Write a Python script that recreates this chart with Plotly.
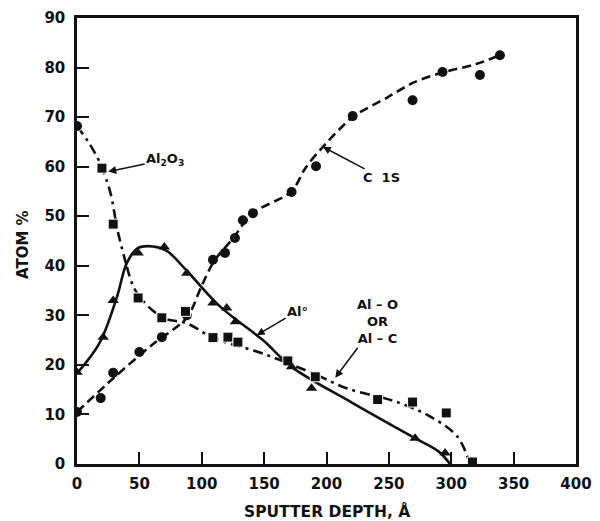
import plotly.graph_objects as go

# ---- data ----
c1s_x = [0, 19, 29, 50, 68, 88, 109, 118.6, 126.6, 133, 141, 172, 191.6, 221, 269, 293, 323, 339]
c1s_y = [10.5, 13.3, 18.4, 22.6, 25.6, 30, 41.2, 42.6, 45.6, 49.2, 50.6, 54.9, 60.1, 70.2, 73.4, 79.1, 78.5, 82.5]
c1s_fit_x = [0, 30, 60, 88, 100, 110, 125, 140, 172, 183, 195, 221, 249, 270, 293, 320, 339]
c1s_fit_y = [10.5, 17.5, 24, 29.5, 36, 41, 45.5, 50.5, 55, 59.7, 63.4, 70, 74, 77, 79, 80.7, 82.5]

al2o3_x = [0, 20, 29, 49, 68, 87, 109, 121, 129, 169, 191, 241, 269, 296, 317]
al2o3_y = [68.2, 59.7, 48.4, 33.5, 29.5, 30.8, 25.5, 25.6, 24.6, 20.8, 17.6, 13, 12.5, 10.3, 0.4]
al2o3_fit1_x = [0, 9, 16, 20, 26.5, 33, 40]
al2o3_fit1_y = [68.2, 65, 62, 59.7, 55, 46.6, 39.8]
al2o3_fit2_x = [40, 48, 69, 88, 109, 150, 190, 216, 259, 285, 305, 315]
al2o3_fit2_y = [39.8, 34.5, 29.5, 28.4, 25.5, 22.2, 18.2, 15.3, 12.3, 9.3, 5.5, 0]

al_x = [0, 21, 29, 49, 70, 88, 109, 120, 127, 172, 188, 271, 295]
al_y = [18.5, 25.6, 33, 42.6, 43.8, 38.5, 32.5, 31.5, 28.7, 19.6, 15.3, 5.2, 2.2]
al_fit_x = [0, 18, 32, 40, 49, 61, 72, 88, 115, 149, 172, 221, 271, 290, 299]
al_fit_y = [18.3, 24.4, 33.7, 40.6, 43.6, 43.9, 43, 39, 31.7, 25, 19.6, 12.3, 5.2, 2.5, 0]

x_ticks = [0, 50, 100, 150, 200, 250, 300, 350, 400]
y_ticks = [0, 10, 20, 30, 40, 50, 60, 70, 80, 90]

FONT = "DejaVu Sans, Verdana, sans-serif"
BLK = "#111111"

fig = go.Figure()

# fitted curves
fig.add_trace(go.Scatter(x=c1s_fit_x, y=c1s_fit_y, mode="lines", line_shape="spline",
                         line=dict(color=BLK, width=2.6, dash="9px,5px", smoothing=0.8),
                         showlegend=False, hoverinfo="skip"))
fig.add_trace(go.Scatter(x=al2o3_fit1_x, y=al2o3_fit1_y, mode="lines", line_shape="spline",
                         line=dict(color=BLK, width=2.6, dash="10px,5px,3px,5px"), showlegend=False, hoverinfo="skip"))
fig.add_trace(go.Scatter(x=al2o3_fit2_x, y=al2o3_fit2_y, mode="lines", line_shape="spline",
                         line=dict(color=BLK, width=2.6, dash="10px,5px,3px,5px"), showlegend=False, hoverinfo="skip"))
fig.add_trace(go.Scatter(x=al_fit_x, y=al_fit_y, mode="lines", line_shape="spline",
                         line=dict(color=BLK, width=2.6), showlegend=False, hoverinfo="skip"))

# markers
fig.add_trace(go.Scatter(x=c1s_x, y=c1s_y, mode="markers", name="C 1S",
                         marker=dict(symbol="circle", size=10, color=BLK, opacity=1), showlegend=False))
fig.add_trace(go.Scatter(x=al2o3_x, y=al2o3_y, mode="markers", name="Al2O3",
                         marker=dict(symbol=["circle"] + ["square"] * (len(al2o3_x) - 1),
                                     size=[11] + [10] * (len(al2o3_x) - 1), color=BLK, opacity=1),
                         showlegend=False))
fig.add_trace(go.Scatter(x=al_x, y=al_y, mode="markers", name="Al°",
                         marker=dict(symbol="triangle-up", size=10, color=BLK, opacity=1), showlegend=False))

ann_font = dict(family=FONT, size=13, color=BLK, weight="bold")
arrow = dict(showarrow=True, arrowhead=2, arrowsize=1, arrowwidth=1.6, arrowcolor=BLK)
fig.add_annotation(x=25, y=59, ax=57, ay=-12, text="Al<sub>2</sub>O<sub>3</sub>", font=ann_font, **arrow)
fig.add_annotation(x=197, y=64, ax=59, ay=31, text="C  1S", font=ann_font, **arrow)
fig.add_annotation(x=144, y=26, ax=41, ay=-24, text="Al°", font=ann_font, **arrow)
fig.add_annotation(x=207, y=17.4, ax=42, ay=-56, text="Al – O<br>OR<br>Al – C", font=ann_font, **arrow)

# axis titles
fig.add_annotation(xref="paper", yref="paper", x=0.5, y=0, xanchor="center", yanchor="top", yshift=-36,
                   text="SPUTTER DEPTH, Å", showarrow=False,
                   font=dict(family=FONT, size=15.5, color=BLK, weight="bold"))
fig.add_annotation(xref="paper", yref="paper", x=0, y=0.5, xanchor="center", yanchor="middle",
                   xshift=-54, yshift=-4, textangle=-90, text="ATOM %", showarrow=False,
                   font=dict(family=FONT, size=15, color=BLK, weight="bold"))

axis_common = dict(showgrid=False, zeroline=False, showline=True, linecolor=BLK, linewidth=2.5,
                   mirror=True, ticks="inside", ticklen=12, tickwidth=2, tickcolor=BLK, automargin=False,
                   tickfont=dict(family=FONT, size=15, color=BLK, weight="bold"))
fig.update_xaxes(range=[0, 400], tickvals=x_ticks, ticktext=[str(v) for v in x_ticks],
                 ticklabelstandoff=4, **axis_common)
fig.update_yaxes(range=[0, 90], tickvals=y_ticks, ticktext=[str(v) for v in y_ticks],
                 ticklabelstandoff=6, **axis_common)

fig.update_layout(width=600, height=521, margin=dict(l=77, r=24, t=18, b=57),
                  plot_bgcolor="white", paper_bgcolor="white", font=dict(family=FONT))

fig.write_html("out.html", post_script="document.body.style.margin='0';",
               config={"displayModeBar": False})
